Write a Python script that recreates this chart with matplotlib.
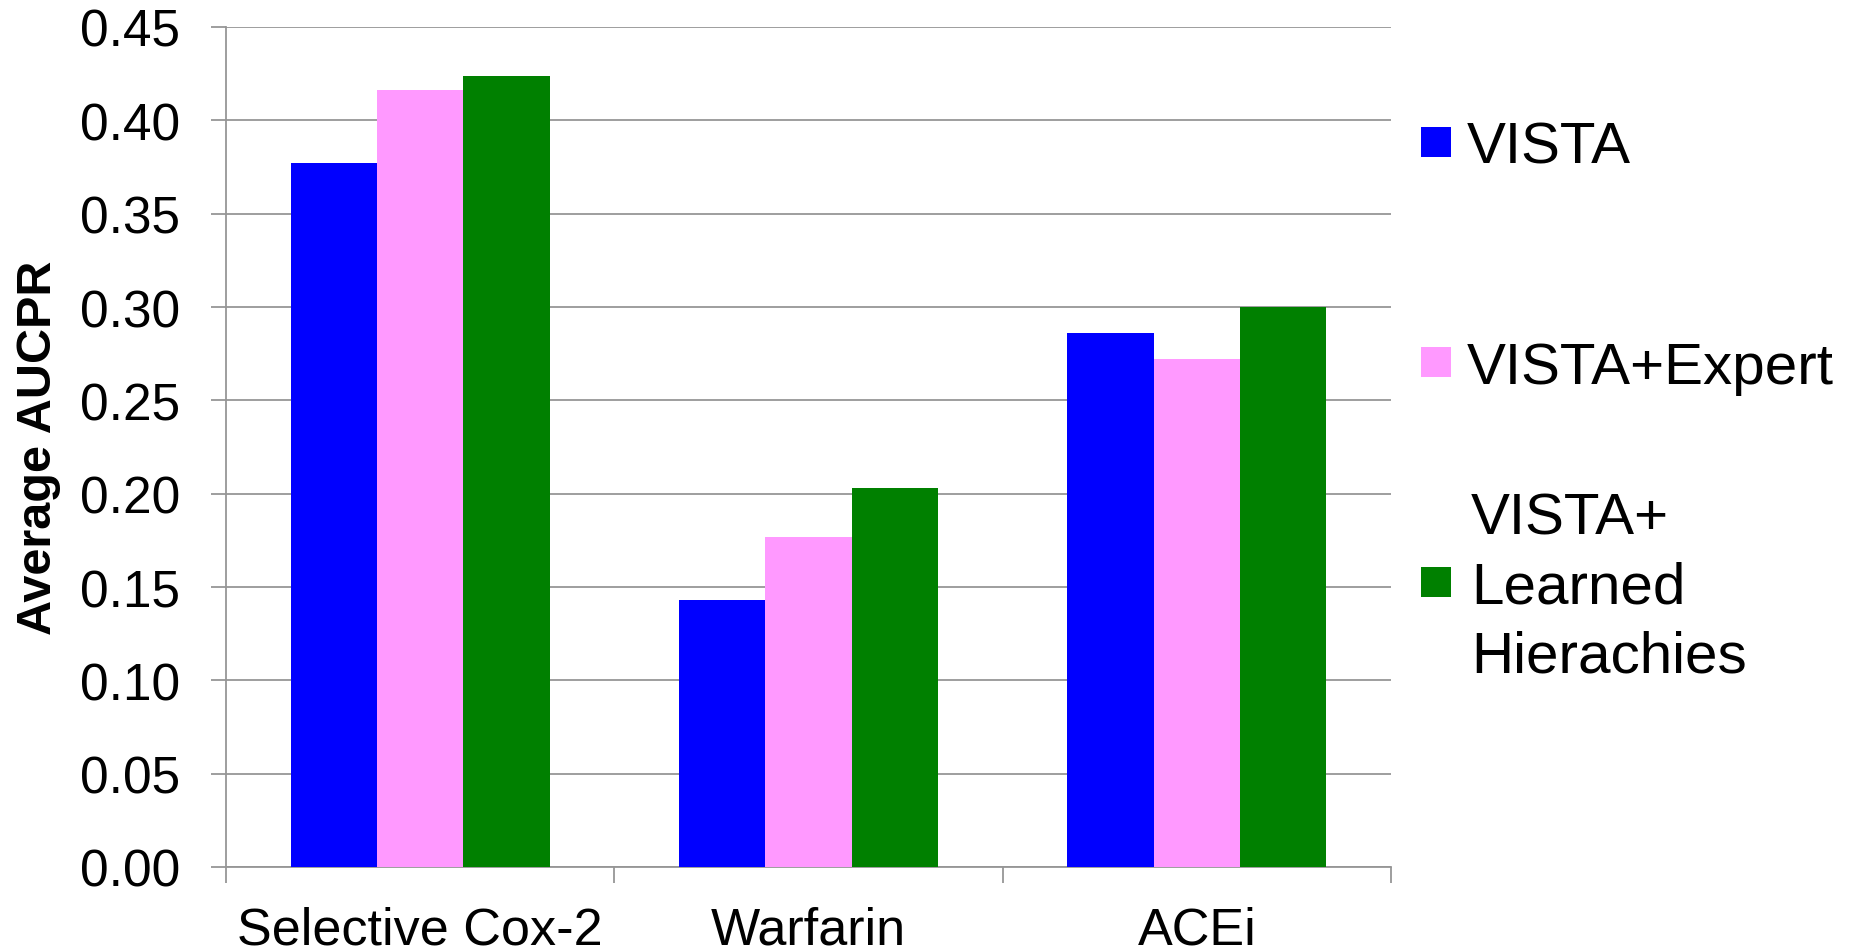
import matplotlib
matplotlib.use("Agg")
import matplotlib.pyplot as plt
from matplotlib.patches import Rectangle
import numpy as np

# Data
categories = ["Selective Cox-2", "Warfarin", "ACEi"]
series_names = ["VISTA", "VISTA+Expert", "VISTA+\nLearned\nHierachies"]
vista = [0.377, 0.143, 0.286]
vista_expert = [0.416, 0.177, 0.272]
vista_learned = [0.424, 0.203, 0.300]
series_colors = ["#0000FF", "#FF99FF", "#008000"]
yticks = [0.00, 0.05, 0.10, 0.15, 0.20, 0.25, 0.30, 0.35, 0.40, 0.45]

plt.rcParams["font.family"] = ["Liberation Sans", "DejaVu Sans"]

W, H = 1855, 953
DPI = 100
fig = plt.figure(figsize=(W / DPI, H / DPI), dpi=DPI)
fig.patch.set_facecolor("white")


def fx(px):
    return px / W


def fy(py):
    return (H - py) / H


left, right, top, bottom = 226, 1391, 28, 868
ax = fig.add_axes([fx(left), fy(bottom), (right - left) / W, (bottom - top) / H])

grey = "#969696"
values = [vista, vista_expert, vista_learned]
n = len(values)
width = 1.0 / (n + 1.5)
x = np.arange(len(categories))
for i, (vals, col) in enumerate(zip(values, series_colors)):
    ax.bar(x + (i - (n - 1) / 2) * width, vals, width=width, color=col,
           edgecolor="none", linewidth=0, zorder=3)

ax.set_xlim(-0.5, len(categories) - 0.5)
ax.set_ylim(0, 0.45)
ax.set_yticks(yticks)
ax.set_yticklabels([f"{v:.2f}" for v in yticks])
ax.set_xticks(x)
ax.set_xticklabels(categories)
ax.set_xticks(np.arange(len(categories) + 1) - 0.5, minor=True)

ax.set_axisbelow(True)
ax.yaxis.grid(True, color=grey, linewidth=1.3)
ax.xaxis.grid(False)

for s in ("top", "right"):
    ax.spines[s].set_visible(False)
for s in ("left", "bottom"):
    ax.spines[s].set_color(grey)
    ax.spines[s].set_linewidth(1.3)

ax.tick_params(axis="y", which="major", length=10.8, width=1.3, color=grey,
               direction="out", pad=22, labelsize=37, labelcolor="black")
ax.tick_params(axis="x", which="major", length=0, pad=27.5, labelsize=37.5,
               labelcolor="black")
ax.tick_params(axis="x", which="minor", length=11.5, width=1.3, color=grey,
               direction="out")

ax.set_ylabel("Average AUCPR", fontsize=35, fontweight="bold")
ax.yaxis.label.set(va="center", ha="center", rotation_mode="anchor")
ax.yaxis.set_label_coords((39 - left) / (right - left), 0.5)

# Legend drawn on the figure
leg_fs = 42
em = leg_fs * DPI / 72
cap = 0.716 * em
sq = 30
entries = [
    (series_names[0], series_colors[0], 143, 1467),
    (series_names[1], series_colors[1], 363, 1467),
    (series_names[2], series_colors[2], 583, 1471),
]
line_step = 69
for label, col, cy, tx in entries:
    fig.add_artist(Rectangle((fx(1421), fy(cy + sq / 2)), sq / W, sq / H,
                             transform=fig.transFigure, facecolor=col,
                             edgecolor="none"))
    lines = label.split("\n")
    mid = (len(lines) - 1) / 2
    for j, line in enumerate(lines):
        base = cy + cap / 2 + (j - mid) * line_step
        fig.text(fx(tx), fy(base), line, fontsize=leg_fs, ha="left",
                 va="baseline", color="black")

fig.savefig("out.png", dpi=DPI, facecolor="white")
